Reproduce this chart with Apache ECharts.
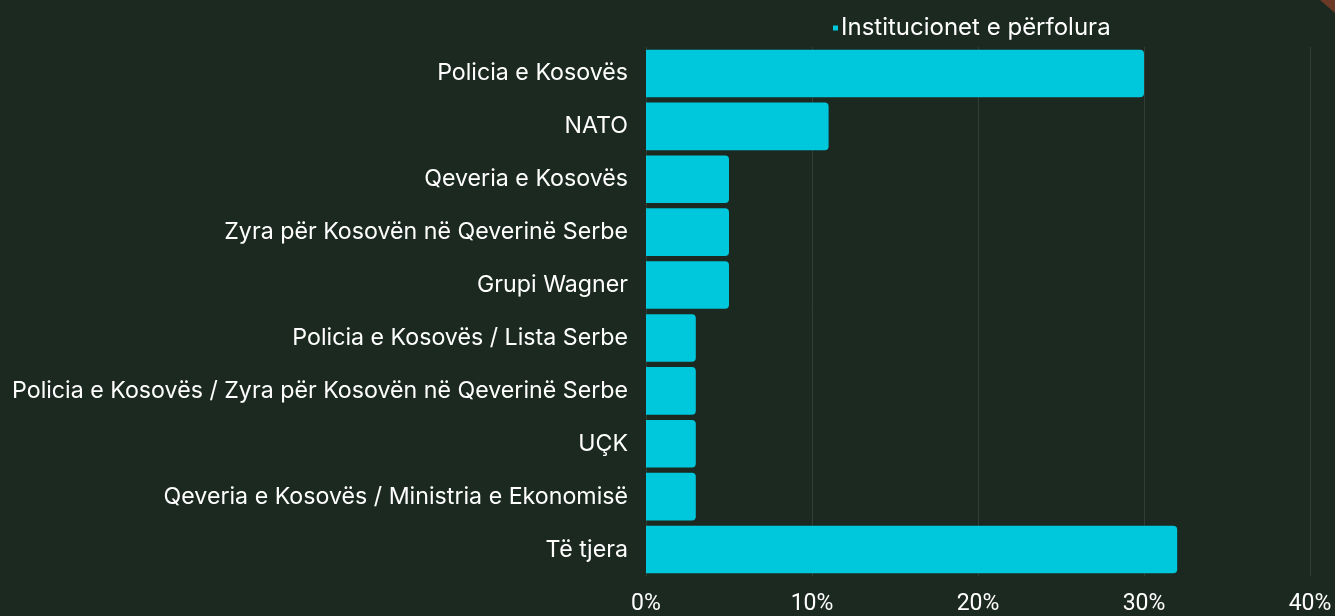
<!DOCTYPE html>
<html>
<head>
<meta charset="utf-8">
<script src="https://cdn.jsdelivr.net/npm/echarts@6/dist/echarts.min.js"></script>
<style>
  html, body { margin: 0; padding: 0; background: #1b2920; }
  #main { width: 1335px; height: 616px; }
</style>
</head>
<body>
<div id="main"></div>
<script>
const categories = [
  'Policia e Kosovës',
  'NATO',
  'Qeveria e Kosovës',
  'Zyra për Kosovën në Qeverinë Serbe',
  'Grupi Wagner',
  'Policia e Kosovës / Lista Serbe',
  'Policia e Kosovës / Zyra për Kosovën në Qeverinë Serbe',
  'UÇK',
  'Qeveria e Kosovës / Ministria e Ekonomisë',
  'Të tjera'
];
const values = [30, 11, 5, 5, 5, 3, 3, 3, 3, 32];
const seriesName = 'Institucionet e përfolura';

// bazuar ne dom, inicializo grafikun
const chart = echarts.init(document.getElementById('main'));
const option = {
  backgroundColor: '#1b2920',
  textStyle: { fontFamily: 'Inter' },
  legend: {
    data: [seriesName],
    left: 828,
    top: 11,
    icon: 'rect',
    itemWidth: 5,
    itemHeight: 5,
    itemGap: 4,
    textStyle: { color: '#ffffff', fontSize: 24, fontFamily: 'Inter', padding: [0, 0, 0, -2] }
  },
  grid: { left: 646, right: 25, top: 47, bottom: 35, containLabel: false },
  xAxis: {
    type: 'value',
    min: 0,
    max: 40,
    interval: 10,
    axisLine: { show: false },
    axisTick: { show: false },
    splitLine: { lineStyle: { color: '#2f3f35', width: 1 } },
    axisLabel: { formatter: '{value}%', color: '#ffffff', fontSize: 23, fontFamily: 'Roboto', margin: 17 }
  },
  yAxis: {
    type: 'category',
    inverse: true,
    data: categories,
    axisLine: { show: false },
    axisTick: { show: false },
    axisLabel: { color: '#ffffff', fontSize: 23.2, margin: 18 }
  },
  series: [{
    name: seriesName,
    type: 'bar',
    data: values,
    barCategoryGap: '10%',
    itemStyle: { color: '#00c8dc', borderRadius: [0, 4, 4, 0] }
  }],
  graphic: [{
    type: 'polygon',
    shape: { points: [[1320, 0], [1335, 0], [1335, 13]] },
    style: { fill: '#6b3a26' }
  }]
};
chart.setOption(option);
</script>
</body>
</html>
